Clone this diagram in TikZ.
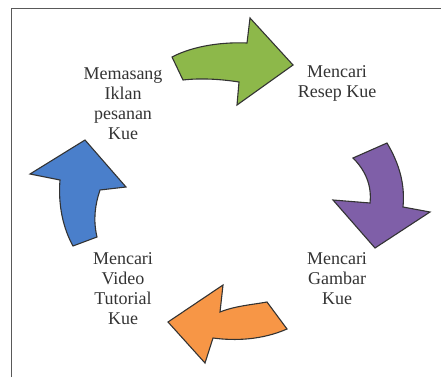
\documentclass[tikz,border=0pt]{standalone}
\usepackage{fontspec}
\setmainfont{Liberation Serif}
\usetikzlibrary{positioning}
\definecolor{pilgreen}{HTML}{8DB84A}
\definecolor{pilpurple}{HTML}{7F5FA8}
\definecolor{pilorange}{HTML}{F79646}
\definecolor{pilblue}{HTML}{4A7FCB}
\tikzset{ tekst/.style={ text=black!80, align=center, inner sep=0pt, font=\fontsize{18}{20}\selectfont}, pil/.style={ draw=black!80, line width=1.1pt, line join=miter}, ramme/.style={ draw=black!65, line width=1.4pt}}

\begin{document}
\begin{tikzpicture}[x=1pt, y=-1pt]
    \useasboundingbox (0,0) rectangle (441,377);
    % frame, only left and top are visible
    \draw[ramme] (11.5,377) -- (11.5,8.5) -- (441,8.5);
    %nodes
    \node[tekst] (resep) at (337,83) {Mencari\\Resep Kue};
    \node[tekst] (gambar) at (337,279) {Mencari\\Gambar\\Kue};
    \node[tekst] (video) at (123,289) {Mencari\\Video\\Tutorial\\Kue};
    \node[tekst] (iklan) at (123,104) {Memasang\\Iklan\\pesanan\\Kue};
    % the four curved arrows
    \filldraw[pil, fill=pilgreen] (172,57) .. controls (195,45) and (225,42) .. (247,43)
      -- (250,18) -- (293,65) -- (237,105) -- (239,82)
      .. controls (220,79) and (200,78) .. (183,80) -- cycle;
    \filldraw[pil, fill=pilpurple] (387,143) .. controls (400,165) and (405,185) .. (403,207)
      -- (430,212) -- (375,248) -- (333,200) -- (370,203)
      .. controls (372,185) and (365,170) .. (353,158) -- cycle;
    \filldraw[pil, fill=pilorange] (287,329) .. controls (262,340) and (235,341) .. (213,338)
      -- (205,363) -- (168,322) -- (223,285) -- (220,312)
      .. controls (235,306) and (250,305) .. (267,302) -- cycle;
    \filldraw[pil, fill=pilblue] (73,246) .. controls (63,228) and (58,205) .. (60,180)
      -- (30,174) -- (85,140) -- (126,187) -- (100,190)
      .. controls (95,205) and (93,220) .. (97,237) -- cycle;
\end{tikzpicture}
\end{document}
